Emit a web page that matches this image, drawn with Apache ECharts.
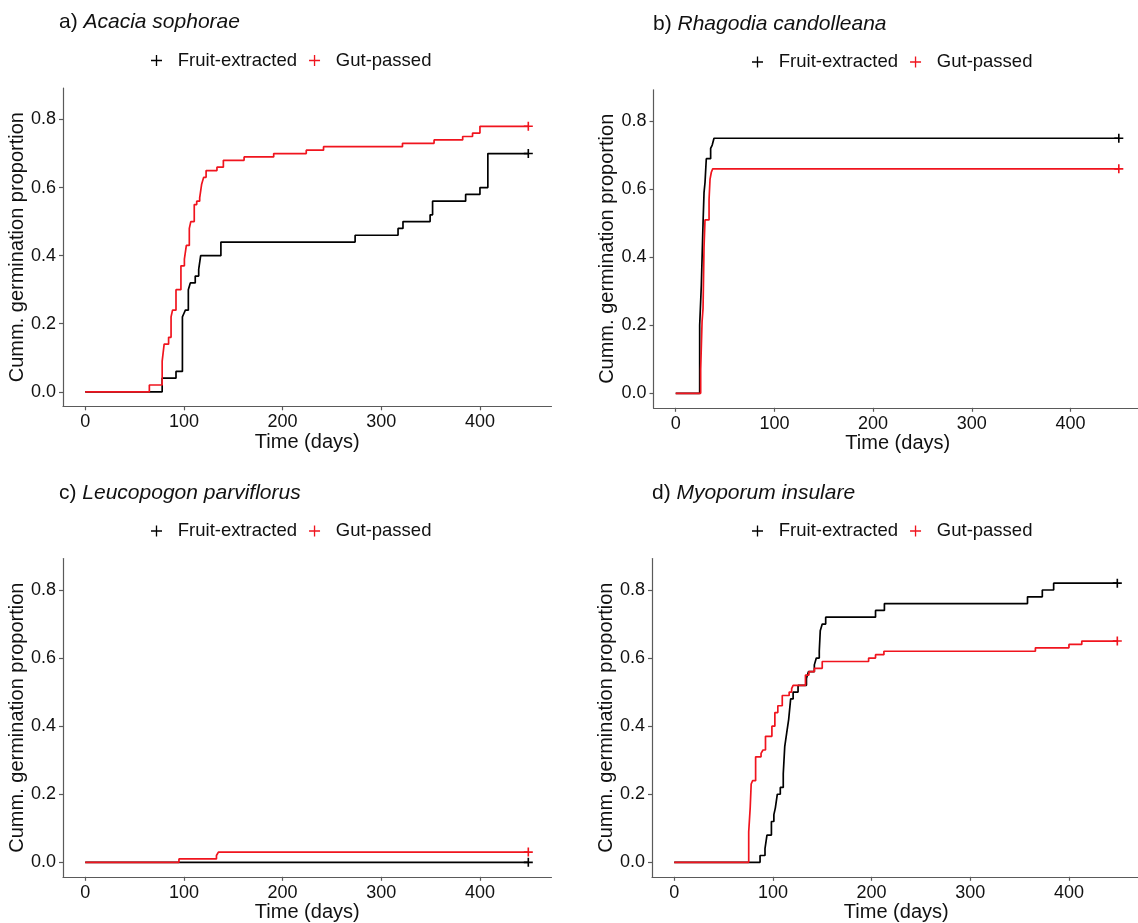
<!DOCTYPE html>
<html>
<head>
<meta charset="utf-8">
<script src="https://cdn.jsdelivr.net/npm/echarts@6/dist/echarts.min.js"></script>
<style>
html,body{margin:0;padding:0;background:#fff;}
#chart{width:1138px;height:923px;}
</style>
</head>
<body>
<div id="chart"></div>
<script>
// ---- data ----
const xTicks = [0, 100, 200, 300, 400];
const yTicks = [0, 0.2, 0.4, 0.6, 0.8];
const groups = ['Fruit-extracted', 'Gut-passed'];
const panelLabels = ['a)', 'b)', 'c)', 'd)'];
const species = ['Acacia sophorae', 'Rhagodia candolleana', 'Leucopogon parviflorus', 'Myoporum insulare'];

// a) Acacia sophorae
const aFruitT = [0, 78, 92, 98.5, 100, 101.5, 104.5, 106.5, 111.5, 115, 117, 137.5, 273.5, 317, 322, 349.5, 352, 385.5, 400, 408, 449];
const aFruitY = [0, 0.04, 0.06, 0.22, 0.23, 0.24, 0.30, 0.32, 0.34, 0.36, 0.40, 0.44, 0.46, 0.48, 0.50, 0.52, 0.56, 0.58, 0.60, 0.70, 0.70];
const aGutT = [0, 65, 78, 80, 84.5, 87, 88.5, 92, 97, 100.5, 102.5, 105.5, 107, 110.5, 113, 116, 118, 120, 122.5, 133.5, 140, 161, 191, 224, 241.5, 321.5, 353.5, 382.5, 392.5, 400, 449];
const aGutY = [0, 0.02, 0.09, 0.14, 0.16, 0.22, 0.24, 0.30, 0.37, 0.39, 0.43, 0.48, 0.50, 0.55, 0.56, 0.57, 0.61, 0.63, 0.65, 0.66, 0.68, 0.69, 0.70, 0.71, 0.72, 0.73, 0.74, 0.75, 0.76, 0.78, 0.78];

// b) Rhagodia candolleana
const bFruitT = [0, 24.3, 26, 27.7, 28.7, 29.7, 31, 35.4, 37, 38.8, 449];
const bFruitY = [0, 0.20, 0.32, 0.50, 0.59, 0.62, 0.69, 0.72, 0.73, 0.75, 0.75];
const bGutT = [0, 25.3, 26.7, 27.7, 28.7, 29.7, 33.8, 34.8, 36.1, 37.5, 449];
const bGutY = [0, 0.07, 0.21, 0.25, 0.43, 0.51, 0.57, 0.63, 0.65, 0.66, 0.66];

// c) Leucopogon parviflorus
const cFruitT = [0, 449];
const cFruitY = [0, 0];
const cGutT = [0, 95, 133, 135, 449];
const cGutY = [0, 0.01, 0.02, 0.03, 0.03];

// d) Myoporum insulare
const dFruitT = [0, 87, 92, 94, 98.5, 101, 102.5, 104.5, 107.5, 110.5, 112, 114, 116, 118, 120.5, 125.5, 134, 136, 142, 144, 147, 148, 150, 153.5, 204, 213, 358, 373, 384.5, 449];
const dFruitY = [0, 0.02, 0.04, 0.08, 0.12, 0.14, 0.16, 0.20, 0.22, 0.26, 0.34, 0.38, 0.42, 0.48, 0.50, 0.52, 0.54, 0.56, 0.58, 0.60, 0.62, 0.68, 0.70, 0.72, 0.74, 0.76, 0.78, 0.80, 0.82, 0.82];
const dGutT = [0, 75.5, 77, 78, 79.5, 82.5, 88, 90, 92.5, 99, 102, 105, 109.5, 116.5, 119, 120.5, 133, 136.5, 142, 150, 197, 204, 212.5, 366, 400, 413, 449];
const dGutY = [0, 0.09, 0.16, 0.23, 0.24, 0.31, 0.32, 0.33, 0.37, 0.40, 0.44, 0.46, 0.49, 0.50, 0.51, 0.52, 0.55, 0.56, 0.57, 0.59, 0.60, 0.61, 0.62, 0.63, 0.64, 0.65, 0.65];

const panelData = [
  [[aFruitT, aFruitY], [aGutT, aGutY]],
  [[bFruitT, bFruitY], [bGutT, bGutY]],
  [[cFruitT, cFruitY], [cGutT, cGutY]],
  [[dFruitT, dFruitY], [dGutT, dGutY]]
];

// ---- styling / layout ----
const FONT = '"Liberation Sans", Arial, sans-serif';
const COLORS = ['#000000', '#f0141e'];
const AXIS_COL = '#5a5a5a';
const TEXT_COL = '#111111';
const PLUS = 'path://M4.1,0H5.9V4.1H10V5.9H5.9V10H4.1V5.9H0V4.1H4.1Z';
const PLUS_THIN = 'path://M4.4,0H5.6V4.4H10V5.6H5.6V10H4.4V5.6H0V4.4H4.4Z';

const grids = [
  {left: 63, top: 88, width: 488.5, height: 318.3},
  {left: 653.5, top: 89.8, width: 488.5, height: 318},
  {left: 63, top: 558.5, width: 488.5, height: 318.3},
  {left: 652, top: 558.5, width: 488.5, height: 318.3}
];
const titlePos = [{left: 59, top: 12}, {left: 653, top: 13.5}, {left: 59, top: 482.5}, {left: 652, top: 482.5}];
const legendPos = [{left: 151, top: 51}, {left: 752, top: 52.5}, {left: 151, top: 521.5}, {left: 752, top: 521.5}];

function mkData(t, y) {
  return t.map((x, i) => {
    if (i === t.length - 1) {
      return {value: [x, y[i]], symbol: PLUS, symbolSize: 9};
    }
    return [x, y[i]];
  });
}

const option = {
  animation: false,
  backgroundColor: '#ffffff',
  title: panelLabels.map((p, i) => ({
    left: titlePos[i].left, top: titlePos[i].top, padding: 0,
    text: '{n|' + p + ' }{i|' + species[i] + '}',
    textStyle: {
      fontWeight: 'normal', fontSize: 21, fontFamily: FONT, color: TEXT_COL,
      rich: {
        n: {fontSize: 21, fontWeight: 'normal', fontFamily: FONT, color: TEXT_COL},
        i: {fontSize: 21, fontWeight: 'normal', fontFamily: FONT, fontStyle: 'italic', color: TEXT_COL}
      }
    }
  })),
  legend: legendPos.map((lp, i) => ({
    left: lp.left, top: lp.top, padding: 0,
    orient: 'horizontal',
    icon: PLUS_THIN, itemWidth: 12, itemHeight: 11, itemGap: 12,
    selectedMode: false,
    formatter: n => '  ' + n,
    textStyle: {fontSize: 18.5, fontFamily: FONT, color: TEXT_COL},
    data: groups.map((g, k) => ({name: g, itemStyle: {color: COLORS[k]}}))
  })),
  grid: grids.map(g => Object.assign({containLabel: false, outerBoundsMode: 'none'}, g)),
  xAxis: grids.map((g, i) => ({
    type: 'value', gridIndex: i, min: -22.5, max: 472.5,
    name: 'Time (days)', nameLocation: 'middle', nameGap: 25,
    nameTextStyle: {fontSize: 20, fontFamily: FONT, color: TEXT_COL},
    axisLine: {show: true, onZero: false, lineStyle: {color: AXIS_COL, width: 1.2}},
    axisTick: {show: true, length: 4, customValues: xTicks, lineStyle: {color: AXIS_COL, width: 1.2}},
    axisLabel: {customValues: xTicks, fontSize: 18, fontFamily: FONT, color: TEXT_COL, margin: 7},
    splitLine: {show: false}
  })),
  yAxis: grids.map((g, i) => ({
    type: 'value', gridIndex: i, min: -0.0425, max: 0.8925,
    name: 'Cumm. germination proportion', nameLocation: 'middle', nameGap: 31, nameRotate: 90,
    nameTextStyle: {fontSize: 20, fontFamily: FONT, color: TEXT_COL},
    axisLine: {show: true, onZero: false, lineStyle: {color: AXIS_COL, width: 1.2}},
    axisTick: {show: true, length: 4, customValues: yTicks, lineStyle: {color: AXIS_COL, width: 1.2}},
    axisLabel: {customValues: yTicks, fontSize: 18, fontFamily: FONT, color: TEXT_COL, margin: 7,
      formatter: v => Number(v).toFixed(1)},
    splitLine: {show: false}
  })),
  series: []
};

panelData.forEach((pd, i) => {
  pd.forEach((s, k) => {
    option.series.push({
      type: 'line', name: groups[k], xAxisIndex: i, yAxisIndex: i,
      step: 'end', symbol: 'none', showSymbol: true,
      color: COLORS[k],
      lineStyle: {color: COLORS[k], width: 1.7},
      itemStyle: {color: COLORS[k]},
      data: mkData(s[0], s[1]),
      z: 2 + k
    });
  });
});

const chart = echarts.init(document.getElementById('chart'), null, {renderer: 'canvas'});
chart.setOption(option);
</script>
</body>
</html>
